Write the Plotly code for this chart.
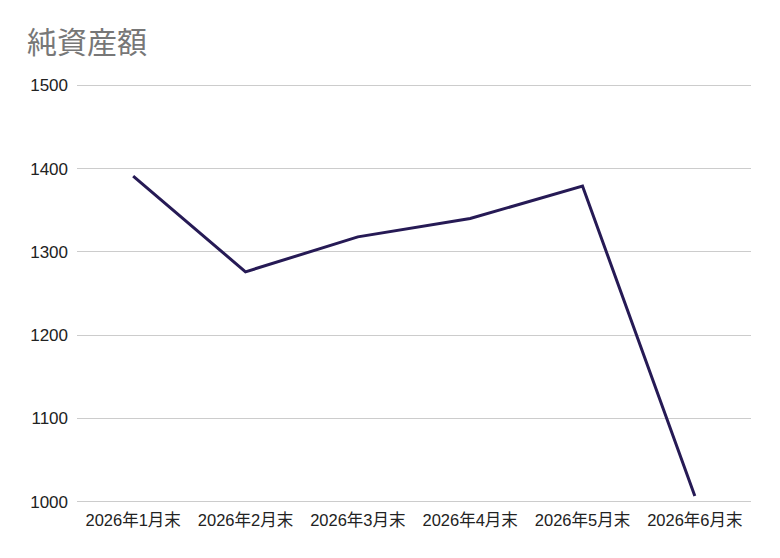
import plotly.graph_objects as go

categories = ["2026年1月末", "2026年2月末", "2026年3月末", "2026年4月末", "2026年5月末", "2026年6月末"]
net_assets = [1391, 1276, 1318, 1340, 1379, 1007]
y_ticks = [1000, 1100, 1200, 1300, 1400, 1500]

FONT = "Liberation Sans, Arial, Noto Sans CJK JP, sans-serif"

fig = go.Figure(go.Scatter(
    x=categories, y=net_assets, mode="lines",
    line=dict(color="#261a55", width=3),
    hoverinfo="skip", showlegend=False,
))

fig.update_layout(
    width=780, height=558,
    margin=dict(l=77, r=29, t=84, b=55),
    paper_bgcolor="white", plot_bgcolor="white",
    font=dict(family=FONT, size=17, color="#222222"),
    title=dict(text="純資産額", font=dict(family=FONT, size=30, color="#777777"),
               xref="container", yref="container", x=27/780, xanchor="left",
               y=1-42/558, yanchor="middle"),
    xaxis=dict(showgrid=False, showline=False, ticks="", zeroline=False,
               range=[-0.5, 5.5], ticklabelstandoff=5,
               tickfont=dict(size=16.5, color="#222222")),
    yaxis=dict(range=[998.5, 1501.5], tickvals=y_ticks, showgrid=True,
               gridcolor="#cccccc", gridwidth=1, zeroline=False, showline=False,
               ticks="", tickfont=dict(size=17, color="#222222"), ticklabelstandoff=8),
)

fig.write_html("out.html")
